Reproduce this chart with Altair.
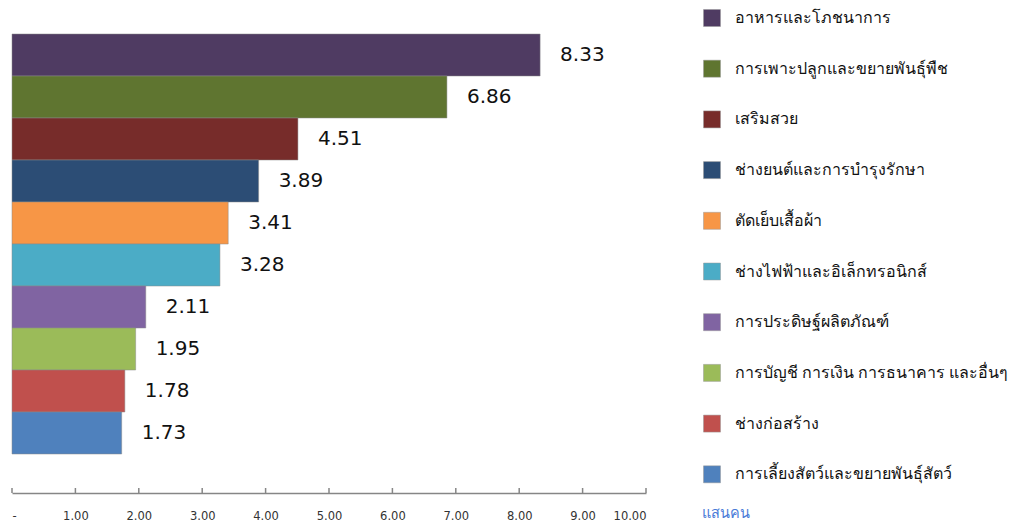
import altair as alt
import pandas as pd

categories = [
    "อาหารและโภชนาการ",
    "การเพาะปลูกและขยายพันธุ์พืช",
    "เสริมสวย",
    "ช่างยนต์และการบำรุงรักษา",
    "ตัดเย็บเสื้อผ้า",
    "ช่างไฟฟ้าและอิเล็กทรอนิกส์",
    "การประดิษฐ์ผลิตภัณฑ์",
    "การบัญชี การเงิน การธนาคาร และอื่นๆ",
    "ช่างก่อสร้าง",
    "การเลี้ยงสัตว์และขยายพันธุ์สัตว์",
]
values = [8.33, 6.86, 4.51, 3.89, 3.41, 3.28, 2.11, 1.95, 1.78, 1.73]
colors = ["#4F3B62", "#5F7530", "#772C2A", "#2C4D75", "#F79646",
          "#4BACC6", "#8064A2", "#9BBB59", "#C0504D", "#4F81BD"]
tick_values = [0, 1, 2, 3, 4, 5, 6, 7, 8, 9, 10]
unit_label = "แสนคน"

df = pd.DataFrame({"cat": categories, "value": values,
                   "label": [f"{v:.2f}" for v in values]})
ticks_df = pd.DataFrame({"t": tick_values})

xscale = alt.Scale(domain=[0, 10], nice=False)
yenc = alt.Y("cat:N", sort=categories, axis=None,
             scale=alt.Scale(paddingInner=0, paddingOuter=0))

bars = alt.Chart(df).mark_bar(stroke="#8a8a8a", strokeWidth=0.5).encode(
    x=alt.X("value:Q", scale=xscale,
            axis=alt.Axis(values=tick_values,
                          labelExpr="datum.value == 0 ? '-' : format(datum.value, '.2f')",
                          offset=39, grid=False, tickSize=0,
                          domainColor="#868686", domainWidth=1.5,
                          labelFont="DejaVu Sans", labelFontSize=11.5,
                          labelColor="#333333", labelPadding=17,
                          title=unit_label, titleColor="#4A7BD8",
                          titleFontSize=14.5, titleFontWeight="normal",
                          titleFont="Noto Sans",
                          titleX=689, titleY=20, titleAlign="left",
                          titleBaseline="middle", titleAngle=0)),
    y=yenc,
    color=alt.Color("cat:N", sort=categories,
                    scale=alt.Scale(domain=categories, range=colors),
                    legend=alt.Legend(title=None, orient="none",
                                      legendX=691, legendY=-25,
                                      symbolType="square", symbolSize=289,
                                      symbolStrokeWidth=0.5,
                                      symbolStrokeColor="#999999",
                                      labelFontSize=16, labelFont="Noto Sans",
                                      labelColor="#111111",
                                      labelOffset=14, rowPadding=30.7,
                                      labelLimit=400)),
)

text = alt.Chart(df).mark_text(align="left", baseline="middle", dx=20,
                               font="DejaVu Sans", fontSize=20,
                               color="#111111").encode(
    x=alt.X("value:Q", scale=xscale),
    y=yenc,
    text="label:N",
)

tick_marks = alt.Chart(ticks_df).mark_rule(color="#868686", strokeWidth=1.5).encode(
    x=alt.X("t:Q", scale=xscale),
    y=alt.value(454),
    y2=alt.value(459),
)

chart = alt.layer(bars, text, tick_marks).properties(
    width=634, height=420,
    padding={"left": 3, "top": 1, "right": 0, "bottom": 0},
).configure_view(stroke=None)

chart.save("out.html", embed_options={"renderer": "svg", "actions": False})
